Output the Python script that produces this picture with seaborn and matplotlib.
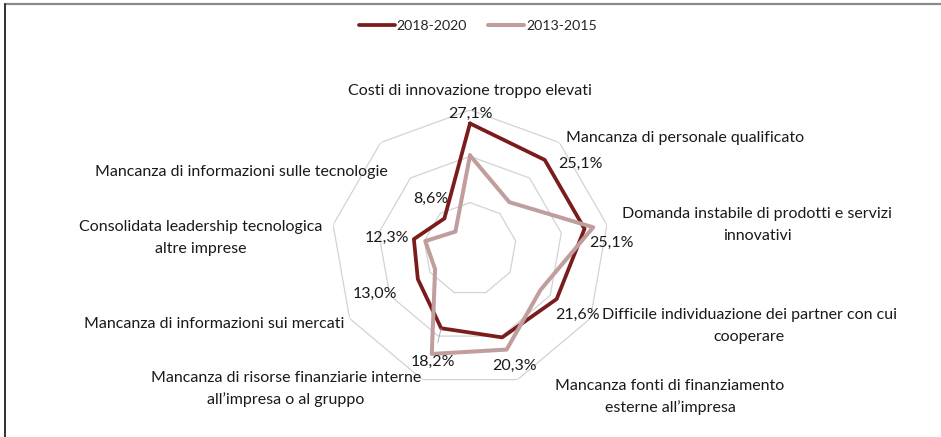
import numpy as np
import matplotlib
matplotlib.use("Agg")
import matplotlib.pyplot as plt
from matplotlib.lines import Line2D
import seaborn as sns

# Barriers to innovation, share of firms (%)
categories = [
    "Costi di innovazione troppo elevati",
    "Mancanza di personale qualificato",
    "Domanda instabile di prodotti e servizi\ninnovativi",
    "Difficile individuazione dei partner con cui\ncooperare",
    "Mancanza fonti di finanziamento\nesterne all\u2019impresa",
    "Mancanza di risorse finanziarie interne\nall\u2019impresa o al gruppo",
    "Mancanza di informazioni sui mercati",
    "Consolidata leadership tecnologica\naltre imprese",
    "Mancanza di informazioni sulle tecnologie",
]
values_2018_2020 = [27.1, 25.1, 25.1, 21.6, 20.3, 18.2, 13.0, 12.3, 8.6]
values_2013_2015 = [20.2, 13.2, 27.0, 17.6, 23.1, 24.1, 8.7, 9.8, 4.9]
series_names = ["2018-2020", "2013-2015"]
ring_levels = [10, 20, 30]

sns.set_style("white")
plt.rcParams["font.family"] = ["Lato", "DejaVu Sans"]

W, H = 941, 437
fig = plt.figure(figsize=(W / 100, H / 100), dpi=100)

def fx(px):
    return px / W

def fy(py):
    return 1 - py / H

# polar axes centred on the web
cx, cy, rad = 470, 249, 139
ax = fig.add_axes([fx(cx - rad), fy(cy + rad), 2 * rad / W, 2 * rad / H], projection="polar")
ax.set_theta_zero_location("N")
ax.set_theta_direction(-1)
ax.set_ylim(0, ring_levels[-1])
ax.grid(False)
ax.set_xticks([])
ax.set_yticks([])
ax.spines["polar"].set_visible(False)
ax.patch.set_alpha(0)

n = len(categories)
theta = np.arange(n) * 2 * np.pi / n
theta_closed = np.append(theta, 2 * np.pi)

# polygonal rings
grid_col = "#d3d3d3"
for lv in ring_levels:
    ax.plot(theta_closed, [lv] * (n + 1), color=grid_col, lw=0.9, zorder=1)

dark = "#7b1c1c"
light = "#c19e9e"

def closed(vals):
    return np.append(vals, vals[0])

sns.lineplot(x=theta_closed, y=closed(values_2018_2020), ax=ax, sort=False,
             color=dark, lw=2.7, label=series_names[0], zorder=3, legend=False)
sns.lineplot(x=theta_closed, y=closed(values_2013_2015), ax=ax, sort=False,
             color=light, lw=2.9, label=series_names[1], zorder=4, legend=False)

# value labels for the latest period
label_offsets = [(0, 10), (36, -4), (27, -14), (21, -16), (12, -29),
                 (-8, -34), (-43, -15), (-27, 1), (-14, 20)]
fs = 11.5
for i, (t, v) in enumerate(zip(theta, values_2018_2020)):
    txt = f"{v:.1f}%".replace(".", ",")
    kw = {}
    if i == 5:
        kw["arrowprops"] = dict(arrowstyle="-", color="#a0a0a0", lw=0.6,
                                shrinkA=7, shrinkB=0)
    ax.annotate(txt, xy=(t, v), xytext=label_offsets[i], textcoords="offset pixels",
                ha="center", va="center", fontsize=fs, color="#1a1a1a", zorder=5, **kw)

# category labels, one text per line (22 px line pitch)
cat_pos = [
    (470, 91, "center"),
    (566, 138, "left"),
    (757, 225, "center"),
    (749, 326, "center"),
    (670, 397, "center"),
    (286, 389, "center"),
    (84, 324, "left"),
    (201, 238, "center"),
    (95, 172, "left"),
]
pitch = 22
for lab, (px, py, ha) in zip(categories, cat_pos):
    lines = lab.split("\n")
    y0 = py - pitch * (len(lines) - 1) / 2
    for j, line in enumerate(lines):
        fig.text(fx(px), fy(y0 + j * pitch), line, ha=ha, va="center",
                 fontsize=fs, color="#1a1a1a")

handles = [Line2D([], [], color=dark, lw=2.7), Line2D([], [], color=light, lw=2.9)]
fig.legend(handles, series_names, loc="center", bbox_to_anchor=(fx(478), fy(26)),
           ncol=2, frameon=False, fontsize=10.2, handlelength=2.5, handletextpad=0.15,
           columnspacing=1.5)

# frame edges
fig.add_artist(Line2D([fx(5), 1], [fy(4), fy(4)], color="#8a8a8a", lw=1.6,
                      transform=fig.transFigure))
fig.add_artist(Line2D([fx(5), fx(5)], [fy(4), 0], color="#303030", lw=1.4,
                      transform=fig.transFigure))

fig.savefig("out.png", dpi=100)
